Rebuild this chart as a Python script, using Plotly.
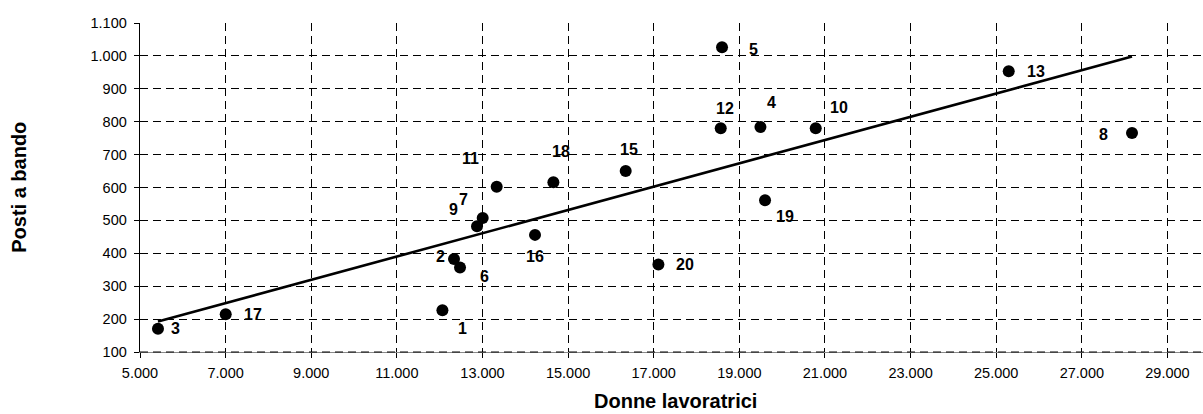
import numpy as np
import plotly.graph_objects as go

# ---- data ----
labels = ["1", "2", "3", "4", "5", "6", "7", "8", "9", "10",
          "11", "12", "13", "15", "16", "17", "18", "19", "20"]
donne_lavoratrici = [12064, 12335, 5420, 19492, 18595, 12475, 13005, 28172, 12872, 20784,
                     13332, 18565, 25292, 16345, 14227, 7002, 14656, 19600, 17109]
posti_a_bando = [227, 383, 171, 784, 1026, 357, 507, 766, 482, 780,
                 602, 780, 953, 650, 456, 215, 616, 561, 366]

x_title = "Donne lavoratrici"
y_title = "Posti a bando"

# label offsets in pixels (dx right, dy down) – styling only
label_offsets = {
    "1": (20, 18), "2": (-14, -2), "3": (18, 0), "4": (11, -24), "5": (31, 2),
    "6": (24, 9), "7": (-19, -19), "8": (-29, 2), "9": (-24, -17), "10": (23, -21),
    "11": (-26, -28), "12": (4, -20), "13": (27, 0), "15": (3, -22), "16": (0, 22),
    "17": (27, 0), "18": (8, -31), "19": (20, 16), "20": (27, 0),
}

x = np.array(donne_lavoratrici, dtype=float)
y = np.array(posti_a_bando, dtype=float)

# linear trendline (least squares), spanning the data's x range
slope, intercept = np.polyfit(x, y, 1)
tx = np.array([x.min(), x.max()])
ty = slope * tx + intercept

FONT = "Liberation Sans, Arial, sans-serif"

fig = go.Figure()
fig.add_trace(go.Scatter(
    x=tx, y=ty, mode="lines",
    line=dict(color="black", width=2.6),
    hoverinfo="skip", showlegend=False,
))
fig.add_trace(go.Scatter(
    x=x, y=y, mode="markers",
    marker=dict(color="black", size=12, line=dict(width=0)),
    showlegend=False,
))

annotations = []
for lab, xv, yv in zip(labels, donne_lavoratrici, posti_a_bando):
    dx, dy = label_offsets[lab]
    annotations.append(dict(
        x=xv, y=yv, xref="x", yref="y", text=f"<b>{lab}</b>",
        showarrow=False, xshift=dx, yshift=-dy,
        font=dict(family=FONT, size=16, color="black"),
        xanchor="center", yanchor="middle",
    ))

annotations.append(dict(
    x=0.5034, y=-0.148, xref="paper", yref="paper",
    text=f"<b>{x_title}</b>", showarrow=False,
    font=dict(family=FONT, size=20, color="black"),
    xanchor="center", yanchor="middle",
))
annotations.append(dict(
    x=-0.1145, y=0.5, xref="paper", yref="paper",
    text=f"<b>{y_title}</b>", showarrow=False, textangle=-90,
    font=dict(family=FONT, size=20, color="black"),
    xanchor="center", yanchor="middle",
))

grid_dash = "8px,5px"

fig.update_layout(
    width=1203, height=414,
    margin=dict(l=140, r=0, t=23, b=62),
    paper_bgcolor="white", plot_bgcolor="white",
    separators=",.",
    font=dict(family=FONT, size=14.5, color="black"),
    annotations=annotations,
    showlegend=False,
    hovermode=False,
    shapes=[dict(
        type="line", xref="paper", yref="y domain",
        x0=0, x1=1, y0=0, y1=0, layer="above",
        line=dict(color="black", width=1, dash=grid_dash),
    )],
)

fig.update_xaxes(
    range=[5000, 29830], tick0=5000, dtick=2000, tickformat=",d",
    showgrid=True, gridcolor="black", gridwidth=1, griddash=grid_dash,
    showline=True, linecolor="#8a8a8a", linewidth=1,
    ticks="outside", ticklen=5, tickcolor="black", tickwidth=1,
    ticklabelstandoff=3,
    zeroline=False, tickfont=dict(family=FONT, size=14.5, color="black"),
)
fig.update_yaxes(
    range=[100, 1100], tick0=100, dtick=100, tickformat=",d",
    showgrid=True, gridcolor="black", gridwidth=1, griddash=grid_dash,
    showline=True, linecolor="black", linewidth=1.3,
    ticks="outside", ticklen=5, tickcolor="black", tickwidth=1,
    ticklabelstandoff=4,
    zeroline=False, tickfont=dict(family=FONT, size=14.5, color="black"),
)

fig.write_html(
    "out.html",
    config={"displayModeBar": False, "staticPlot": True},
    post_script="document.body.style.margin='0';document.body.style.overflow='hidden';",
)
